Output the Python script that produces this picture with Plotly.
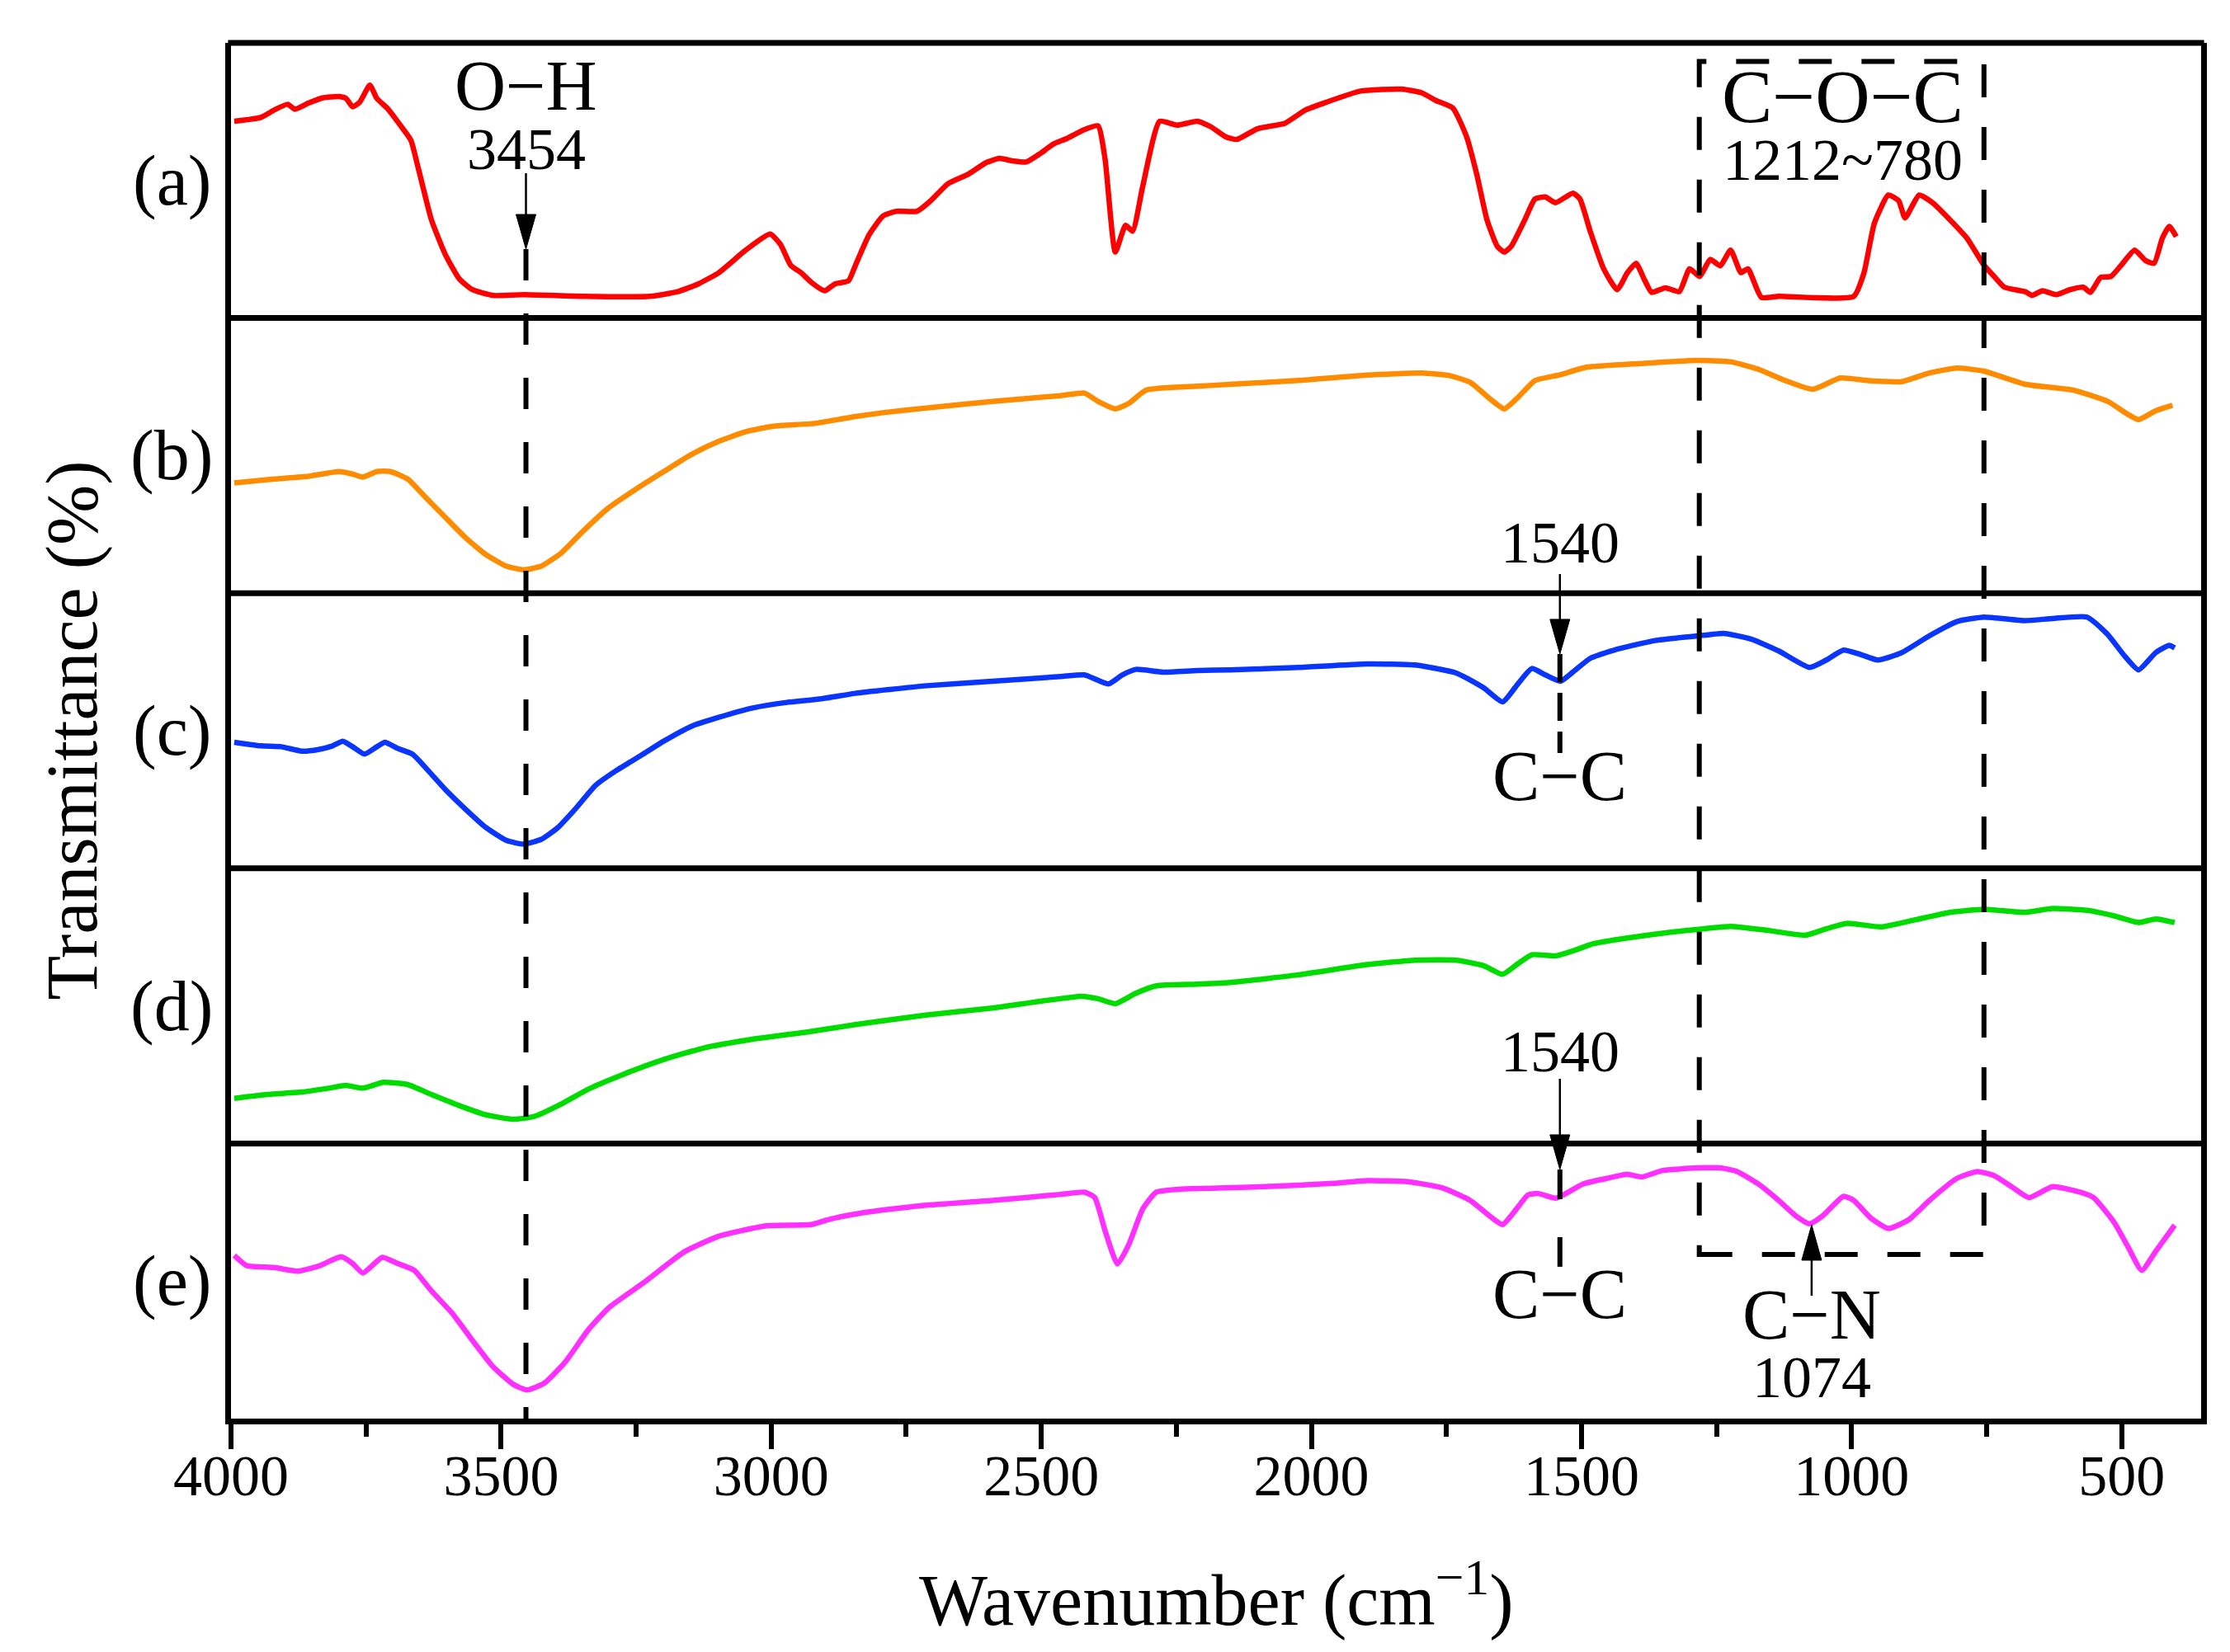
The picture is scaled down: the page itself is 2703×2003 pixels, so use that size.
import plotly.graph_objects as go
from plotly.subplots import make_subplots

# FTIR spectra, values (relative transmittance, 0-100 per panel)
wn_a = [3994, 3945, 3920, 3895, 3882, 3857, 3831, 3800, 3787, 3775,
        3762, 3743, 3730, 3711, 3692, 3667, 3654, 3629, 3604, 3578,
        3553, 3515, 3458, 3350, 3224, 3173, 3135, 3097, 3047, 3002,
        2983, 2964, 2945, 2926, 2901, 2882, 2857, 2844, 2819, 2793,
        2768, 2730, 2705, 2673, 2635, 2603, 2578, 2553, 2528, 2502,
        2477, 2452, 2420, 2395, 2382, 2363, 2344, 2331, 2312, 2281,
        2249, 2211, 2186, 2160, 2138, 2100, 2049, 2011, 1973, 1909,
        1833, 1795, 1770, 1738, 1713, 1694, 1675, 1656, 1643, 1630,
        1605, 1586, 1567, 1548, 1516, 1503, 1484, 1459, 1434, 1415,
        1399, 1383, 1370, 1345, 1319, 1300, 1281, 1262, 1243, 1224,
        1205, 1192, 1167, 1135, 996, 977, 958, 932, 913, 901,
        875, 850, 818, 786, 755, 736, 717, 679, 666, 647,
        621, 596, 571, 558, 539, 520, 501, 476, 456, 440,
        425, 412, 399]
t_a = [71.5, 72.9, 75.6, 77.7, 75.9, 78.1, 80.0, 80.5, 79.8, 76.8,
       78.4, 84.6, 79.8, 76.3, 71.5, 64.6, 55.0, 35.7, 23.4, 14.4,
       10.3, 8.2, 8.5, 7.9, 7.9, 9.6, 12.4, 16.5, 24.7, 30.5,
       26.8, 19.2, 16.5, 13.0, 9.9, 12.4, 13.5, 19.2, 30.2, 37.1,
       38.8, 38.8, 42.6, 48.8, 52.3, 56.4, 58.0, 57.1, 56.7, 59.8,
       63.3, 65.3, 68.5, 69.9, 57.8, 24.0, 33.7, 31.6, 48.1, 71.5,
       70.1, 71.5, 69.5, 66.0, 64.9, 68.8, 70.8, 75.6, 78.4, 82.5,
       83.2, 81.8, 79.1, 76.3, 66.0, 52.3, 35.7, 26.1, 24.0, 26.1,
       35.7, 43.3, 44.0, 41.9, 45.4, 43.3, 31.6, 17.9, 10.3, 16.5,
       19.9, 13.7, 9.3, 11.0, 9.6, 17.9, 15.1, 21.3, 19.0, 24.7,
       16.5, 17.9, 7.5, 7.9, 7.9, 16.5, 34.4, 44.7, 42.6, 36.4,
       44.7, 41.9, 35.7, 28.9, 19.2, 15.1, 11.2, 9.6, 8.2, 9.9,
       8.5, 10.3, 11.2, 9.3, 14.8, 15.1, 19.2, 24.7, 20.9, 19.9,
       28.9, 33.3, 29.6]

wn_b = [3994, 3920, 3857, 3800, 3775, 3756, 3730, 3705, 3673, 3642,
        3604, 3566, 3528, 3490, 3458, 3426, 3388, 3350, 3300, 3249,
        3199, 3148, 3097, 3047, 2996, 2920, 2844, 2793, 2717, 2591,
        2464, 2420, 2395, 2363, 2338, 2306, 2211, 2151, 2024, 1897,
        1795, 1745, 1706, 1668, 1643, 1618, 1586, 1541, 1491, 1389,
        1288, 1224, 1173, 1123, 1072, 1021, 970, 907, 857, 805,
        755, 678, 590, 526, 488, 469, 437, 406]
t_b = [40.1, 41.5, 42.5, 44.2, 43.3, 42.2, 44.2, 44.2, 41.5, 35.3,
       27.7, 20.2, 14.0, 9.8, 8.5, 9.8, 14.7, 22.2, 31.2, 38.0,
       44.2, 50.4, 55.2, 58.7, 60.7, 61.7, 64.2, 65.6, 67.2, 69.7,
       71.8, 72.7, 69.7, 67.0, 69.0, 73.8, 75.2, 75.9, 77.3, 79.3,
       80.0, 79.1, 76.6, 70.4, 67.0, 71.1, 77.3, 79.3, 82.1, 83.5,
       84.6, 84.1, 81.4, 77.3, 74.1, 78.2, 77.3, 76.9, 80.0, 81.8,
       80.7, 75.9, 73.8, 69.7, 64.9, 63.1, 66.3, 68.3]

wn_c = [3994, 3945, 3907, 3869, 3838, 3812, 3793, 3775, 3753, 3730,
        3715, 3692, 3664, 3635, 3604, 3566, 3528, 3490, 3458, 3426,
        3395, 3363, 3325, 3287, 3237, 3199, 3148, 3097, 3034, 2971,
        2907, 2844, 2781, 2717, 2591, 2464, 2420, 2376, 2350, 2325,
        2274, 2211, 2151, 2024, 1897, 1808, 1732, 1681, 1646, 1618,
        1592, 1567, 1539, 1516, 1484, 1440, 1364, 1288, 1237, 1186,
        1135, 1078, 1047, 1015, 983, 951, 907, 857, 805, 755,
        679, 628, 564, 526, 494, 469, 437, 412, 402]
t_c = [45.8, 44.5, 44.2, 42.6, 43.2, 44.5, 46.2, 44.2, 41.5, 44.2,
       45.8, 43.6, 41.5, 35.5, 28.8, 21.5, 14.8, 10.1, 8.8, 10.5,
       14.8, 21.5, 30.2, 35.5, 41.5, 46.2, 51.6, 54.9, 58.3, 60.3,
       61.6, 63.6, 65.0, 66.3, 68.0, 69.7, 70.3, 67.0, 70.3, 72.3,
       71.3, 71.9, 72.1, 73.0, 74.3, 73.9, 71.0, 65.6, 60.5, 67.0,
       72.6, 70.3, 68.0, 71.3, 76.3, 79.3, 82.8, 84.4, 85.4, 83.3,
       79.0, 73.0, 75.7, 79.3, 77.7, 75.7, 78.4, 84.4, 89.7, 91.3,
       90.0, 90.8, 91.3, 85.0, 77.0, 72.1, 78.4, 81.0, 80.1]

wn_d = [3994, 3933, 3869, 3819, 3787, 3756, 3718, 3673, 3629, 3578,
        3528, 3477, 3439, 3388, 3338, 3274, 3199, 3123, 3034, 2933,
        2844, 2717, 2591, 2426, 2395, 2363, 2325, 2287, 2211, 2151,
        2024, 1897, 1808, 1732, 1681, 1646, 1618, 1592, 1548, 1516,
        1478, 1415, 1338, 1275, 1224, 1161, 1085, 1047, 1008, 945,
        882, 818, 755, 679, 628, 564, 514, 469, 437, 402]
t_d = [16.4, 17.8, 18.7, 20.1, 21.1, 20.1, 22.2, 21.4, 17.8, 13.8,
       10.4, 8.8, 9.8, 14.4, 19.8, 25.1, 30.5, 34.8, 37.9, 40.5,
       43.2, 46.6, 49.2, 53.5, 52.6, 50.8, 54.6, 57.3, 57.9, 58.5,
       61.3, 65.0, 66.6, 66.6, 64.6, 61.5, 65.3, 68.6, 68.2, 70.0,
       72.6, 74.7, 76.7, 78.0, 78.9, 77.6, 75.7, 78.0, 80.0, 78.7,
       81.3, 84.0, 85.1, 84.0, 85.4, 84.7, 82.7, 80.3, 81.6, 80.3]

wn_e = [3994, 3971, 3920, 3876, 3838, 3796, 3775, 3756, 3720, 3692,
        3661, 3629, 3591, 3553, 3515, 3477, 3452, 3420, 3382, 3338,
        3300, 3236, 3161, 3097, 3009, 2926, 2895, 2831, 2717, 2591,
        2464, 2420, 2401, 2382, 2359, 2338, 2312, 2287, 2236, 2150,
        2087, 1960, 1897, 1821, 1757, 1706, 1668, 1646, 1624, 1599,
        1580, 1548, 1529, 1497, 1453, 1415, 1389, 1351, 1288, 1243,
        1212, 1173, 1135, 1104, 1078, 1053, 1015, 996, 964, 932,
        894, 856, 805, 767, 736, 704, 672, 628, 577, 552,
        514, 488, 463, 437, 402]
t_e = [59.3, 55.6, 54.9, 53.6, 55.4, 58.8, 56.4, 52.9, 58.6, 56.4,
       53.9, 46.4, 38.4, 28.4, 18.9, 12.4, 10.4, 12.9, 20.4, 32.4,
       40.4, 49.4, 60.6, 66.3, 70.1, 70.5, 72.3, 74.8, 77.5, 79.3,
       81.5, 82.3, 80.3, 68.3, 56.2, 63.3, 76.3, 82.3, 83.5, 83.9,
       84.3, 85.5, 86.5, 86.1, 83.8, 79.3, 73.3, 70.5, 75.3, 81.3,
       81.8, 80.1, 81.8, 85.3, 87.3, 88.8, 87.8, 90.1, 91.1, 91.1,
       89.8, 85.3, 79.3, 73.8, 70.8, 73.8, 80.8, 79.3, 72.8, 69.1,
       72.3, 79.3, 87.3, 89.8, 88.3, 84.3, 80.3, 84.3, 82.3, 80.3,
       71.3, 62.3, 53.9, 60.8, 70.3]

panel_labels = ['(a)', '(b)', '(c)', '(d)', '(e)']
colors = ['#ff0000', '#ff8c00', '#0a35ff', '#00dc00', '#ff30ff']

# marked bands (cm-1)
oh_band = 3454
cc_band = 1540
cn_band = 1074
coc_box = [1282, 755]
coc_label_x = 1016

FONT = 'Liberation Serif'
series = [(wn_a, t_a), (wn_b, t_b), (wn_c, t_c), (wn_d, t_d), (wn_e, t_e)]

fig = make_subplots(rows=5, cols=1, shared_xaxes=True, vertical_spacing=0)
for i, (wn, t) in enumerate(series):
    fig.add_trace(go.Scatter(x=wn, y=t, mode='lines',
                             line=dict(color=colors[i], width=6.5, shape='spline', smoothing=0.5),
                             showlegend=False), row=i + 1, col=1)

xr = [4000, 353]
for i in range(1, 6):
    fig.update_xaxes(range=xr, showline=False, showgrid=False, zeroline=False, ticks='',
                     showticklabels=False, row=i, col=1)
    fig.update_yaxes(range=[0, 100], showline=True, mirror=True, linewidth=7, linecolor='black',
                     showgrid=False, zeroline=False, ticks='', showticklabels=False, row=i, col=1)

fig.update_xaxes(row=5, col=1, showline=True, mirror=False, linewidth=7, linecolor='black',
                 showticklabels=True, ticks='outside', ticklen=30, tickwidth=6,
                 tickcolor='black', tick0=0, dtick=500, ticklabelstandoff=-28,
                 tickfont=dict(family=FONT, size=70, color='black'),
                 minor=dict(ticks='outside', ticklen=15, tickwidth=6, tickcolor='black',
                            tick0=0, dtick=250))

# top frame and panel separators
for yb in [1.0, 0.8, 0.6, 0.4, 0.2]:
    fig.add_shape(type='line', xref='paper', yref='paper', x0=-0.0015, x1=1.0015, y0=yb, y1=yb,
                  line=dict(color='black', width=7))

# dashed guide lines and box
fig.add_shape(type='line', xref='x5', yref='paper', x0=oh_band, x1=oh_band, y0=0.8501, y1=0.0,
              line=dict(color='black', width=6, dash='38px,40px'))
fig.add_shape(type='rect', xref='x5', yref='paper', x0=coc_box[0], x1=coc_box[1], y0=0.1193, y1=0.9865,
              line=dict(color='black', width=6, dash='40px,36px'))
fig.add_shape(type='line', xref='x5', yref='paper', x0=cc_band, x1=cc_band, y0=0.5558, y1=0.4838,
              line=dict(color='black', width=6, dash='34px,13px'))
fig.add_shape(type='line', xref='x5', yref='paper', x0=cc_band, x1=cc_band, y0=0.1811, y1=0.1079,
              line=dict(color='black', width=6, dash='36px,46px'))

# arrows: thin stems + triangular heads
stems = [(oh_band, 0.9053, 0.8600), (cc_band, 0.6139, 0.5650), (cc_band, 0.2470, 0.1900),
         (cn_band, 0.0893, 0.1300)]
for x, y0, y1 in stems:
    fig.add_shape(type='line', xref='x5', yref='paper', x0=x, x1=x, y0=y0, y1=y1,
                  line=dict(color='black', width=2.5))
heads = [(oh_band, 0.8501, 'M-12,42 L12,42 L0,0 Z'), (cc_band, 0.5558, 'M-12,42 L12,42 L0,0 Z'),
         (cc_band, 0.1811, 'M-12,42 L12,42 L0,0 Z'), (cn_band, 0.1409, 'M-12,-43 L12,-43 L0,0 Z')]
for x, y, p in heads:
    fig.add_shape(type='path', xref='x5', yref='paper', xsizemode='pixel', ysizemode='pixel',
                  xanchor=x, yanchor=y, path=p, fillcolor='black', line=dict(color='black', width=1))

big = dict(family=FONT, size=86, color='black')
coc = dict(family=FONT, size=92, color='black')
small = dict(family=FONT, size=72, color='black')
texts = [('O−H', oh_band, 0.9690, big), ('3454', oh_band, 0.9225, small),
         ('C−O−C', coc_label_x, 0.9610, coc), ('1212~780', coc_label_x, 0.9150, small),
         ('1540', cc_band, 0.6367, small), ('C−C', cc_band, 0.4670, big),
         ('1540', cc_band, 0.2668, small), ('C−C', cc_band, 0.0905, big),
         ('C−N', cn_band, 0.0755, big), ('1074', cn_band, 0.0300, small)]
for s, x, y, f in texts:
    fig.add_annotation(text=s, x=x, y=y, xref='x5', yref='paper', showarrow=False,
                       xanchor='center', yanchor='middle', font=f)

for i, lab in enumerate(panel_labels):
    fig.add_annotation(text=lab, x=-0.030, y=0.9 - 0.2 * i, xref='paper', yref='paper',
                       showarrow=False, xanchor='center', yanchor='middle', font=big)

fig.add_annotation(text='Transmittance (%)', x=-0.081, y=0.5, xref='paper', yref='paper',
                   textangle=-90, showarrow=False, xanchor='center', yanchor='middle',
                   font=dict(family=FONT, size=88, color='black'))
fig.add_annotation(text='Wavenumber (cm<sup>−1</sup>)', x=0.5, y=-0.128, xref='paper', yref='paper',
                   showarrow=False, xanchor='center', yanchor='middle',
                   font=dict(family=FONT, size=88, color='black'))

fig.update_layout(width=2703, height=2003, margin=dict(l=272, r=43, t=44, b=291),
                  paper_bgcolor='white', plot_bgcolor='white', font=dict(family=FONT))

fig.write_html('out.html')
